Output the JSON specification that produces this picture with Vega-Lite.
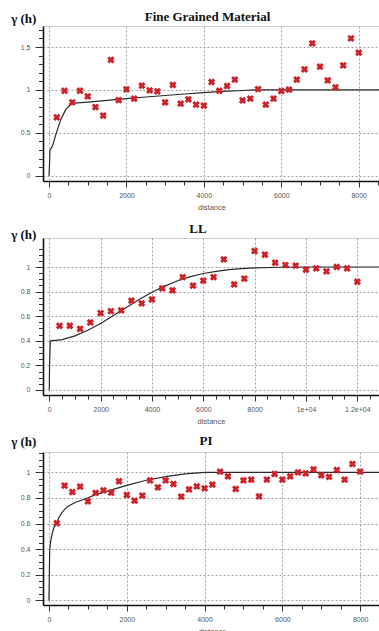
{
  "$schema": "https://vega.github.io/schema/vega-lite/v6.json",
  "background": "white",
  "padding": {"left": 10, "top": 10, "right": 0, "bottom": 0},
  "autosize": {"type": "pad"},
  "bounds": "flush",
  "spacing": 57,
  "config": {
    "view": {"stroke": "#cfcfcf", "strokeWidth": 1},
    "axis": {
      "domainColor": "#111", "domainWidth": 1.6,
      "tickColor": "#333", "tickWidth": 1,
      "labelFont": "Liberation Sans", "labelFontSize": 7, "labelColor": "#555",
      "labelOverlap": false, "labelFlush": false,
      "gridDash": [2, 2], "gridWidth": 1,
      "titleFont": "Liberation Sans", "titleFontWeight": "normal", "titleColor": "#555", "titleFontSize": 7.5
    },
    "title": {"font": "Liberation Serif", "fontSize": 13, "fontWeight": "bold", "color": "#111", "anchor": "middle", "frame": "group"}
  },
  "datasets": {
    "c1": [
      {"d": 0, "g": 0}, {"d": 15, "g": 0.15}, {"d": 25, "g": 0.3}, {"d": 60, "g": 0.32}, {"d": 100, "g": 0.36},
      {"d": 170, "g": 0.47}, {"d": 300, "g": 0.65}, {"d": 430, "g": 0.77}, {"d": 560, "g": 0.83}, {"d": 650, "g": 0.845},
      {"d": 1000, "g": 0.857}, {"d": 1500, "g": 0.878}, {"d": 2000, "g": 0.898}, {"d": 2500, "g": 0.917},
      {"d": 3000, "g": 0.935}, {"d": 3500, "g": 0.952}, {"d": 4000, "g": 0.968}, {"d": 4500, "g": 0.982},
      {"d": 5000, "g": 0.993}, {"d": 5300, "g": 1.0}, {"d": 8550, "g": 1.0}
    ],
    "p1": [
      {"d": 200, "g": 0.68}, {"d": 400, "g": 0.99}, {"d": 600, "g": 0.855}, {"d": 800, "g": 0.99}, {"d": 1000, "g": 0.925},
      {"d": 1200, "g": 0.8}, {"d": 1400, "g": 0.7}, {"d": 1600, "g": 1.35}, {"d": 1800, "g": 0.88}, {"d": 2000, "g": 1.007},
      {"d": 2200, "g": 0.898}, {"d": 2400, "g": 1.049}, {"d": 2600, "g": 0.995}, {"d": 2800, "g": 0.983}, {"d": 3000, "g": 0.855},
      {"d": 3200, "g": 1.057}, {"d": 3400, "g": 0.84}, {"d": 3600, "g": 0.89}, {"d": 3800, "g": 0.828}, {"d": 4000, "g": 0.816},
      {"d": 4200, "g": 1.092}, {"d": 4400, "g": 0.99}, {"d": 4600, "g": 1.045}, {"d": 4800, "g": 1.119}, {"d": 5000, "g": 0.878},
      {"d": 5200, "g": 0.898}, {"d": 5400, "g": 1.01}, {"d": 5600, "g": 0.828}, {"d": 5800, "g": 0.898}, {"d": 6000, "g": 0.987},
      {"d": 6200, "g": 1.003}, {"d": 6400, "g": 1.119}, {"d": 6600, "g": 1.24}, {"d": 6800, "g": 1.543}, {"d": 7000, "g": 1.271},
      {"d": 7200, "g": 1.111}, {"d": 7400, "g": 1.03}, {"d": 7600, "g": 1.286}, {"d": 7800, "g": 1.601}, {"d": 8000, "g": 1.434}
    ],
    "c2": [
      {"d": 0, "g": 0}, {"d": 10, "g": 0.2}, {"d": 40, "g": 0.4}, {"d": 500, "g": 0.41}, {"d": 1000, "g": 0.44},
      {"d": 1500, "g": 0.485}, {"d": 2000, "g": 0.54}, {"d": 2500, "g": 0.605}, {"d": 3000, "g": 0.67},
      {"d": 3500, "g": 0.735}, {"d": 4000, "g": 0.795}, {"d": 4500, "g": 0.845}, {"d": 5000, "g": 0.888},
      {"d": 5500, "g": 0.922}, {"d": 6000, "g": 0.947}, {"d": 6500, "g": 0.965}, {"d": 7000, "g": 0.978},
      {"d": 7500, "g": 0.987}, {"d": 8000, "g": 0.993}, {"d": 9000, "g": 0.998}, {"d": 10000, "g": 1.0}, {"d": 12845, "g": 1.0}
    ],
    "p2": [
      {"d": 400, "g": 0.522}, {"d": 800, "g": 0.522}, {"d": 1200, "g": 0.497}, {"d": 1600, "g": 0.549}, {"d": 2000, "g": 0.625},
      {"d": 2400, "g": 0.641}, {"d": 2800, "g": 0.647}, {"d": 3200, "g": 0.726}, {"d": 3600, "g": 0.704}, {"d": 4000, "g": 0.736},
      {"d": 4400, "g": 0.826}, {"d": 4800, "g": 0.81}, {"d": 5200, "g": 0.918}, {"d": 5600, "g": 0.848}, {"d": 6000, "g": 0.889},
      {"d": 6400, "g": 0.918}, {"d": 6800, "g": 1.062}, {"d": 7200, "g": 0.859}, {"d": 7600, "g": 0.905}, {"d": 8000, "g": 1.13},
      {"d": 8400, "g": 1.1}, {"d": 8800, "g": 1.035}, {"d": 9200, "g": 1.016}, {"d": 9600, "g": 1.011}, {"d": 10000, "g": 0.978},
      {"d": 10400, "g": 0.989}, {"d": 10800, "g": 0.965}, {"d": 11200, "g": 1.0}, {"d": 11600, "g": 0.989}, {"d": 12000, "g": 0.88}
    ],
    "c3": [
      {"d": 0, "g": 0}, {"d": 17, "g": 0.383}, {"d": 43, "g": 0.461}, {"d": 86, "g": 0.526}, {"d": 128, "g": 0.57},
      {"d": 188, "g": 0.604}, {"d": 257, "g": 0.648}, {"d": 342, "g": 0.69}, {"d": 470, "g": 0.732}, {"d": 684, "g": 0.766},
      {"d": 941, "g": 0.794}, {"d": 1198, "g": 0.826}, {"d": 1540, "g": 0.857}, {"d": 2000, "g": 0.898},
      {"d": 2500, "g": 0.938}, {"d": 3000, "g": 0.967}, {"d": 3500, "g": 0.988}, {"d": 4000, "g": 1.0}, {"d": 8535, "g": 1.0}
    ],
    "p3": [
      {"d": 200, "g": 0.602}, {"d": 400, "g": 0.896}, {"d": 600, "g": 0.846}, {"d": 800, "g": 0.888}, {"d": 1000, "g": 0.773},
      {"d": 1200, "g": 0.839}, {"d": 1400, "g": 0.859}, {"d": 1600, "g": 0.841}, {"d": 1800, "g": 0.93}, {"d": 2000, "g": 0.823},
      {"d": 2200, "g": 0.779}, {"d": 2400, "g": 0.818}, {"d": 2600, "g": 0.937}, {"d": 2800, "g": 0.883}, {"d": 3000, "g": 0.937},
      {"d": 3200, "g": 0.909}, {"d": 3400, "g": 0.81}, {"d": 3600, "g": 0.867}, {"d": 3800, "g": 0.89}, {"d": 4000, "g": 0.875},
      {"d": 4200, "g": 0.904}, {"d": 4400, "g": 1.005}, {"d": 4600, "g": 0.969}, {"d": 4800, "g": 0.87}, {"d": 5000, "g": 0.937},
      {"d": 5200, "g": 0.943}, {"d": 5400, "g": 0.812}, {"d": 5600, "g": 0.943}, {"d": 5800, "g": 0.987}, {"d": 6000, "g": 0.943},
      {"d": 6200, "g": 0.969}, {"d": 6400, "g": 1.0}, {"d": 6600, "g": 0.992}, {"d": 6800, "g": 1.023}, {"d": 7000, "g": 0.977},
      {"d": 7200, "g": 0.964}, {"d": 7400, "g": 1.018}, {"d": 7600, "g": 0.943}, {"d": 7800, "g": 1.065}, {"d": 8000, "g": 1.005}
    ]
  },
  "vconcat": [
    {
      "width": 337, "height": 155,
      "title": {"text": "Fine Grained Material", "offset": -12, "dx": -4},
      "encoding": {
        "x": {"field": "d", "type": "quantitative", "scale": {"domain": [-155, 8550], "nice": false, "zero": false},
          "axis": {
            "values": [0, 500, 1000, 1500, 2000, 2500, 3000, 3500, 4000, 4500, 5000, 5500, 6000, 6500, 7000, 7500, 8000, 8500],
            "title": "distance", "titleY": 26, "titleBaseline": "middle",
            "labelOverlap": false,
            "labelExpr": "datum.value % 2000 === 0 ? format(datum.value, 'd') : ''",
            "grid": true,
            "gridColor": {"condition": {"test": "datum.value % 2000 === 0", "value": "#a0a0a0"}, "value": "transparent"},
            "tickSize": {"condition": {"test": "datum.value % 2000 === 0", "value": 6}, "value": 4},
            "labelPadding": 4
          }},
        "y": {"field": "g", "type": "quantitative", "scale": {"domain": [-0.062, 1.745], "nice": false, "zero": false},
          "axis": {
            "values": [0, 0.1, 0.2, 0.3, 0.4, 0.5, 0.6, 0.7, 0.8, 0.9, 1, 1.1, 1.2, 1.3, 1.4, 1.5, 1.6, 1.7],
            "title": "γ (h)", "titleAngle": 0, "titleAlign": "left", "titleBaseline": "middle",
            "titleX": -32.3, "titleY": -8,
            "titleFont": "Liberation Serif", "titleFontSize": 13, "titleFontWeight": "bold", "titleColor": "#111",
            "labelOverlap": false,
            "labelExpr": "abs(round(datum.value*2) - datum.value*2) < 0.001 ? format(datum.value, '~g') : ''",
            "grid": true,
            "gridColor": {"condition": {"test": "abs(round(datum.value*2) - datum.value*2) < 0.001", "value": "#a0a0a0"}, "value": "transparent"},
            "tickSize": {"condition": {"test": "abs(round(datum.value*2) - datum.value*2) < 0.001", "value": 8}, "value": 4.5},
            "labelPadding": 5
          }}
      },
      "layer": [
        {"data": {"name": "c1"}, "mark": {"type": "line", "color": "#2a2a2a", "strokeWidth": 1.2, "clip": true}},
        {"data": {"name": "p1"}, "mark": {"type": "point", "shape": "cross", "angle": 45, "filled": true, "size": 55, "color": "#cc2229", "opacity": 1}}
      ]
    },
    {
      "width": 336, "height": 157,
      "title": {"text": "LL", "offset": -7.7, "dx": -13},
      "encoding": {
        "x": {"field": "d", "type": "quantitative", "scale": {"domain": [-245, 12845], "nice": false, "zero": false},
          "axis": {
            "values": [0, 500, 1000, 1500, 2000, 2500, 3000, 3500, 4000, 4500, 5000, 5500, 6000, 6500, 7000, 7500, 8000, 8500, 9000, 9500, 10000, 10500, 11000, 11500, 12000, 12500],
            "title": "distance", "titleY": 26, "titleBaseline": "middle",
            "labelOverlap": false,
            "labelExpr": "datum.value % 2000 === 0 ? (datum.value === 10000 ? '1e+04' : datum.value === 12000 ? '1.2e+04' : format(datum.value, 'd')) : ''",
            "grid": true,
            "gridColor": {"condition": {"test": "datum.value % 2000 === 0", "value": "#a0a0a0"}, "value": "transparent"},
            "tickSize": {"condition": {"test": "datum.value % 2000 === 0", "value": 6}, "value": 4},
            "labelPadding": 4
          }},
        "y": {"field": "g", "type": "quantitative", "scale": {"domain": [-0.041, 1.236], "nice": false, "zero": false},
          "axis": {
            "values": [0, 0.05, 0.1, 0.15, 0.2, 0.25, 0.3, 0.35, 0.4, 0.45, 0.5, 0.55, 0.6, 0.65, 0.7, 0.75, 0.8, 0.85, 0.9, 0.95, 1, 1.05, 1.1, 1.15],
            "title": "γ (h)", "titleAngle": 0, "titleAlign": "left", "titleBaseline": "middle",
            "titleX": -32.3, "titleY": -4,
            "titleFont": "Liberation Serif", "titleFontSize": 13, "titleFontWeight": "bold", "titleColor": "#111",
            "labelOverlap": false,
            "labelExpr": "abs(round(datum.value*5) - datum.value*5) < 0.001 ? format(datum.value, '~g') : ''",
            "grid": true,
            "gridColor": {"condition": {"test": "abs(round(datum.value*5) - datum.value*5) < 0.001", "value": "#a0a0a0"}, "value": "transparent"},
            "tickSize": {"condition": {"test": "abs(round(datum.value*5) - datum.value*5) < 0.001", "value": 8}, "value": 4.5},
            "labelPadding": 5
          }}
      },
      "layer": [
        {"data": {"name": "c2"}, "mark": {"type": "line", "color": "#2a2a2a", "strokeWidth": 1.2, "clip": true}},
        {"data": {"name": "p2"}, "mark": {"type": "point", "shape": "cross", "angle": 45, "filled": true, "size": 55, "color": "#cc2229", "opacity": 1}}
      ]
    },
    {
      "width": 338, "height": 153,
      "title": {"text": "PI", "offset": -13, "dx": -6},
      "encoding": {
        "x": {"field": "d", "type": "quantitative", "scale": {"domain": [-154, 8535], "nice": false, "zero": false},
          "axis": {
            "values": [0, 500, 1000, 1500, 2000, 2500, 3000, 3500, 4000, 4500, 5000, 5500, 6000, 6500, 7000, 7500, 8000, 8500],
            "title": "distance", "titleY": 26, "titleBaseline": "middle",
            "labelOverlap": false,
            "labelExpr": "datum.value % 2000 === 0 ? format(datum.value, 'd') : ''",
            "grid": true,
            "gridColor": {"condition": {"test": "datum.value % 2000 === 0", "value": "#a0a0a0"}, "value": "transparent"},
            "tickSize": {"condition": {"test": "datum.value % 2000 === 0", "value": 6}, "value": 4},
            "labelPadding": 4
          }},
        "y": {"field": "g", "type": "quantitative", "scale": {"domain": [-0.037, 1.159], "nice": false, "zero": false},
          "axis": {
            "values": [0, 0.05, 0.1, 0.15, 0.2, 0.25, 0.3, 0.35, 0.4, 0.45, 0.5, 0.55, 0.6, 0.65, 0.7, 0.75, 0.8, 0.85, 0.9, 0.95, 1, 1.05, 1.1, 1.15],
            "title": "γ (h)", "titleAngle": 0, "titleAlign": "left", "titleBaseline": "middle",
            "titleX": -32.3, "titleY": -10.7,
            "titleFont": "Liberation Serif", "titleFontSize": 13, "titleFontWeight": "bold", "titleColor": "#111",
            "labelOverlap": false,
            "labelExpr": "abs(round(datum.value*5) - datum.value*5) < 0.001 ? format(datum.value, '~g') : ''",
            "grid": true,
            "gridColor": {"condition": {"test": "abs(round(datum.value*5) - datum.value*5) < 0.001", "value": "#a0a0a0"}, "value": "transparent"},
            "tickSize": {"condition": {"test": "abs(round(datum.value*5) - datum.value*5) < 0.001", "value": 8}, "value": 4.5},
            "labelPadding": 5
          }}
      },
      "layer": [
        {"data": {"name": "c3"}, "mark": {"type": "line", "color": "#2a2a2a", "strokeWidth": 1.2, "clip": true}},
        {"data": {"name": "p3"}, "mark": {"type": "point", "shape": "cross", "angle": 45, "filled": true, "size": 55, "color": "#cc2229", "opacity": 1}}
      ]
    }
  ]
}
